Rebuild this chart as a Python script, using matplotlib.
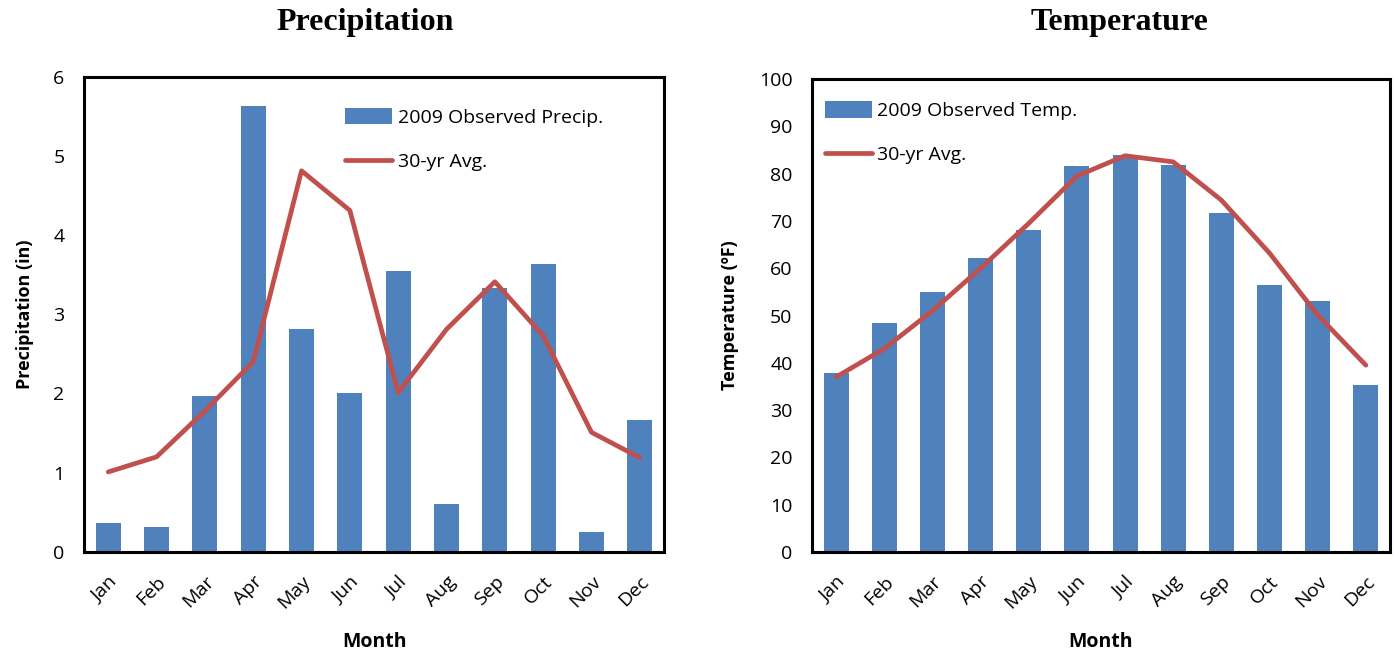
import numpy as np
import matplotlib.pyplot as plt

# Data
months = ['Jan', 'Feb', 'Mar', 'Apr', 'May', 'Jun', 'Jul', 'Aug', 'Sep', 'Oct', 'Nov', 'Dec']
precip_obs = [0.36, 0.31, 1.97, 5.63, 2.81, 2.00, 3.54, 0.61, 3.33, 3.63, 0.25, 1.66]
precip_avg = [1.01, 1.20, 1.78, 2.40, 4.81, 4.31, 2.01, 2.81, 3.41, 2.73, 1.51, 1.19]
temp_obs = [37.8, 48.4, 55.0, 62.2, 68.0, 81.6, 84.0, 81.8, 71.7, 56.4, 53.0, 35.3]
temp_avg = [37.0, 43.0, 51.0, 60.0, 69.5, 79.5, 83.8, 82.5, 74.4, 63.2, 50.1, 39.5]

bar_color = '#4F81BD'
line_color = '#C0504D'

plt.rcParams['font.family'] = ['Open Sans', 'DejaVu Sans']

fig = plt.figure(figsize=(13.94, 6.54), dpi=100)
ax1 = fig.add_axes([0.0603, 0.156, 0.416, 0.727])
ax2 = fig.add_axes([0.5825, 0.156, 0.4146, 0.723])

x = np.arange(len(months))


def draw(ax, obs, avg, ylim, yticks, ylabel, bar_label, anchor):
    bars = ax.bar(x, obs, width=0.52, color=bar_color, zorder=2)
    line, = ax.plot(x, avg, color=line_color, linewidth=3.4, zorder=3,
                    solid_capstyle='round')
    ax.set_xlim(-0.5, len(months) - 0.5)
    ax.set_ylim(*ylim)
    ax.set_yticks(yticks)
    ax.set_xticks(x)
    ax.set_xticklabels(months, rotation=45, fontsize=14, ha='right',
                       rotation_mode='anchor')
    ax.tick_params(axis='y', labelsize=14, length=0, pad=14)
    ax.tick_params(axis='x', length=0, pad=15)
    for s in ax.spines.values():
        s.set_linewidth(2.2)
    ax.set_xlabel('Month', fontsize=14, fontweight='bold', labelpad=14)
    ax.set_ylabel(ylabel, fontsize=13, fontweight='bold', labelpad=14)
    leg = ax.legend([bars, line], [bar_label, '30-yr Avg.'], loc='upper left',
                    bbox_to_anchor=anchor, frameon=False, fontsize=14,
                    handlelength=2.4, handleheight=0.9, labelspacing=1.3,
                    handletextpad=0.3)
    for h in leg.get_lines():
        h.set_solid_capstyle('round')


draw(ax1, precip_obs, precip_avg, (0, 6), range(0, 7), 'Precipitation (in)',
     '2009 Observed Precip.', (0.42, 0.97))
draw(ax2, temp_obs, temp_avg, (0, 100), range(0, 101, 10), 'Temperature (ºF)',
     '2009 Observed Temp.', (-0.008, 0.99))

fig.text(0.262, 0.965, 'Precipitation', ha='center', va='center', fontsize=23,
         fontweight='bold', family='Liberation Serif')
fig.text(0.803, 0.965, 'Temperature', ha='center', va='center', fontsize=23,
         fontweight='bold', family='Liberation Serif')

fig.savefig('out.png', dpi=100)
